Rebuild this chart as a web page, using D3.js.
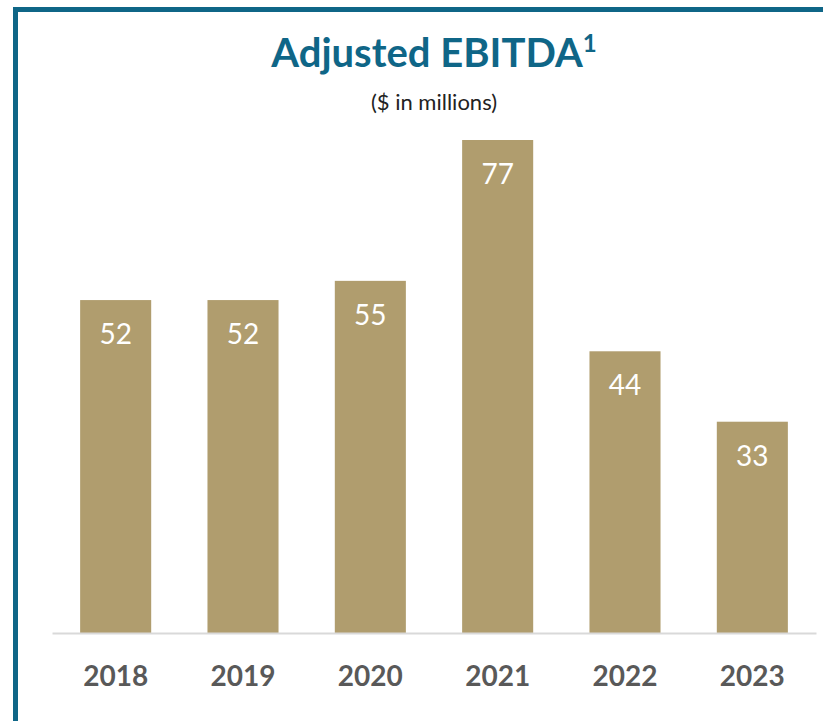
<!DOCTYPE html>
<html>
<head>
<meta charset="utf-8">
<script src="https://cdn.jsdelivr.net/npm/d3@7"></script>
<style>
  body { margin: 0; background: #fff; }
  text { font-family: Lato, "Noto Sans", sans-serif; }
</style>
</head>
<body>
<svg id="chart" width="823" height="721"></svg>
<script>
  // data
  const years = ["2018", "2019", "2020", "2021", "2022", "2023"];
  const ebitda = [52, 52, 55, 77, 44, 33];

  const svg = d3.select("#chart");
  const width = +svg.attr("width");

  // teal frame (top and left edges visible)
  svg.append("path")
    .attr("d", "M15.5,721 V9.5 H823")
    .attr("fill", "none")
    .attr("stroke", "#0f6687")
    .attr("stroke-width", 5);

  const margin = { left: 52, right: 7, baseline: 633 };

  const x = d3.scaleBand()
    .domain(years)
    .range([margin.left, width - margin.right])
    .paddingInner(0.442)
    .paddingOuter(0.221);

  const y = d3.scaleLinear()
    .domain([0, 77])
    .range([margin.baseline, 140]);

  // title
  const title = svg.append("text")
    .attr("x", 434)
    .attr("y", 67)
    .attr("text-anchor", "middle")
    .attr("fill", "#0f6687")
    .attr("font-weight", "bold")
    .attr("font-size", 40);
  title.append("tspan").text("Adjusted EBITDA");
  title.append("tspan")
    .attr("font-size", 24)
    .attr("dy", -15)
    .text("1");

  svg.append("text")
    .attr("x", 434)
    .attr("y", 110)
    .attr("text-anchor", "middle")
    .attr("fill", "#222")
    .attr("font-size", 22)
    .text("($ in millions)");

  // bars
  svg.selectAll("rect.bar")
    .data(ebitda)
    .enter()
    .append("rect")
    .attr("class", "bar")
    .attr("x", (d, i) => x(years[i]))
    .attr("y", d => y(d))
    .attr("width", x.bandwidth())
    .attr("height", d => y(0) - y(d))
    .attr("fill", "#b09d6e");

  // value labels inside bars
  svg.selectAll("text.val")
    .data(ebitda)
    .enter()
    .append("text")
    .attr("class", "val")
    .attr("x", (d, i) => x(years[i]) + x.bandwidth() / 2)
    .attr("y", d => y(d) + 44)
    .attr("text-anchor", "middle")
    .attr("fill", "#fff")
    .attr("font-size", 28)
    .text(d => d);

  // x axis
  const xAxis = svg.append("g")
    .attr("transform", `translate(0,${margin.baseline})`)
    .call(d3.axisBottom(x).tickSize(0).tickPadding(53).tickSizeOuter(0));
  xAxis.select(".domain")
    .attr("stroke", "#d9d9d9")
    .attr("stroke-width", 2);
  xAxis.selectAll("text")
    .attr("dy", null)
    .attr("fill", "#595959")
    .attr("font-weight", "bold")
    .attr("font-size", 28)
    .style("font-family", "Lato, 'Noto Sans', sans-serif");
</script>
</body>
</html>
